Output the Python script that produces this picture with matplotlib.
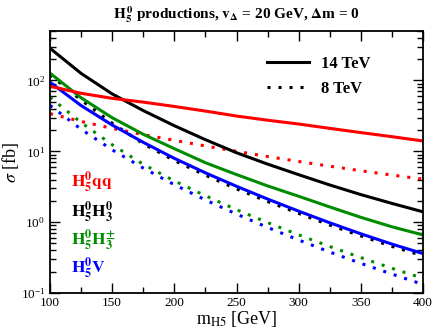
import matplotlib
matplotlib.use('Agg')
import matplotlib.pyplot as plt
from matplotlib.lines import Line2D
from matplotlib.ticker import MultipleLocator, LogLocator, LogFormatterMathtext, NullFormatter

plt.rcParams['font.family'] = 'serif'
plt.rcParams['font.serif'] = ['Liberation Serif', 'DejaVu Serif']
plt.rcParams['mathtext.fontset'] = 'stix'

# masses [GeV]
mH5 = [100, 125, 150, 175, 200, 225, 250, 275, 300, 325, 350, 375, 400]

# 14 TeV cross sections [fb]
qq_14 = [83, 66, 56, 49.5, 43, 37, 31.5, 27.5, 24.3, 21.1, 18.4, 16.1, 14.0]
h30_14 = [285, 126, 64.6, 37.6, 23.0, 14.6, 9.55, 6.6, 4.68, 3.35, 2.45, 1.84, 1.40]
h3pm_14 = [127, 57, 29.8, 17.4, 10.9, 6.9, 4.7, 3.25, 2.32, 1.64, 1.17, 0.86, 0.66]
v_14 = [94.6, 44.3, 23.5, 13.4, 7.96, 4.97, 3.21, 2.12, 1.43, 0.98, 0.685, 0.49, 0.36]

# 8 TeV cross sections [fb]
qq_8 = [34, 26.4, 21.1, 17.2, 14.3, 11.9, 10.0, 8.45, 7.19, 6.17, 5.32, 4.62, 4.05]
h30_8 = [120, 53, 25, 12.8, 7.4, 4.6, 2.95, 1.96, 1.33, 0.91, 0.64, 0.455, 0.335]
h3pm_8 = [58, 25.5, 12.4, 6.56, 3.82, 2.36, 1.50, 0.986, 0.662, 0.453, 0.316, 0.223, 0.161]
v_8 = [44.5, 20.5, 10.5, 5.81, 3.38, 2.06, 1.30, 0.843, 0.56, 0.379, 0.262, 0.185, 0.132]

green = '#008b00'
lw = 2.2
dots = (0, (1, 2.6))

fig = plt.figure(figsize=(4.36, 3.35), dpi=100)
ax = fig.add_axes([0.1147, 0.1254, 0.8555, 0.7821])

# 8 TeV - dotted
ax.plot(mH5, qq_8, color='red', lw=lw, ls=dots)
ax.plot(mH5, h3pm_8, color=green, lw=lw, ls=dots)
ax.plot(mH5, v_8, color='blue', lw=lw, ls=dots)
ax.plot(mH5, h30_8, color='black', lw=lw, ls=dots)
# 14 TeV - solid
ax.plot(mH5, h30_14, color='black', lw=lw)
ax.plot(mH5, h3pm_14, color=green, lw=lw)
ax.plot(mH5, v_14, color='blue', lw=lw)
ax.plot(mH5, qq_14, color='red', lw=lw)

ax.set_yscale('log')
ax.set_xlim(100, 400)
ax.set_ylim(0.1, 500)

ax.xaxis.set_major_locator(MultipleLocator(50))
ax.xaxis.set_minor_locator(MultipleLocator(25))
ax.yaxis.set_major_locator(LogLocator(base=10))
ax.yaxis.set_major_formatter(LogFormatterMathtext())
ax.yaxis.set_minor_locator(LogLocator(base=10, subs=range(2, 10)))
ax.yaxis.set_minor_formatter(NullFormatter())
ax.tick_params(which='both', direction='in', top=True, right=True, labelsize=9.5, width=1.0)
ax.tick_params(which='major', length=7.5)
ax.tick_params(which='minor', length=4.5)
ax.tick_params(axis='x', which='major', pad=3)
for s in ax.spines.values():
    s.set_linewidth(1.3)

ax.set_xlabel(r'm$_{\rm H5}$ [GeV]', fontsize=13, labelpad=0)
ax.set_ylabel(r'$\sigma$ [fb]', fontsize=13)
ax.yaxis.set_label_coords(-0.078, 0.5)
ax.set_title(r'$\mathbf{H_5^{\,0}}$ productions, $\mathbf{v_\Delta}$ = 20 GeV, $\mathbf{\Delta}$m = 0',
             fontsize=11, fontweight='bold', pad=9)

# legend for energies
handles = [Line2D([], [], color='black', lw=lw),
           Line2D([], [], color='black', lw=lw, ls=dots)]
ax.legend(handles, ['14 TeV', '8 TeV'], loc='upper left', bbox_to_anchor=(0.582, 0.905),
          frameon=False, borderpad=0, borderaxespad=0, handlelength=2.5, handletextpad=0.75,
          labelspacing=0.55, prop={'weight': 'bold', 'size': 12})

# channel labels
ax.text(0.056, 0.405, r'$\mathbf{H_5^{0}qq}$', color='red', fontsize=12.5, transform=ax.transAxes)
ax.text(0.056, 0.291, r'$\mathbf{H_5^{0}H_3^{0}}$', color='black', fontsize=12.5, transform=ax.transAxes)
ax.text(0.056, 0.183, r'$\mathbf{H_5^{0}H_3^{\pm}}$', color=green, fontsize=12.5, transform=ax.transAxes)
ax.text(0.056, 0.077, r'$\mathbf{H_5^{0}V}$', color='blue', fontsize=12.5, transform=ax.transAxes)

fig.savefig('out.png', dpi=100)
